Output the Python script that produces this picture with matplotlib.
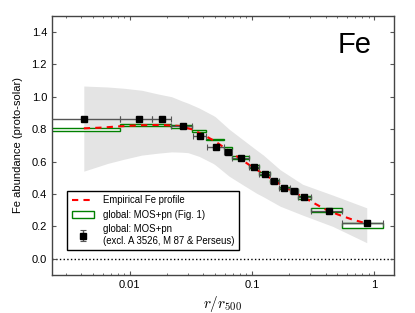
"""
Fe abundance profile vs r/r500 — empirical profile, global MOS+pn bins, scatter band
"""
import numpy as np
import matplotlib
matplotlib.use("Agg")
import matplotlib.pyplot as plt
import matplotlib.patches as mpatches
from matplotlib.container import ErrorbarContainer
from matplotlib.legend_handler import HandlerErrorbar

plt.rcParams["font.family"] = ["Liberation Sans", "DejaVu Sans"]
plt.rcParams["mathtext.fontset"] = "cm"

# ── Data ───────────────────────────────────────────────────────────────────────
# black points: global MOS+pn (excl. A 3526, M 87 & Perseus)
pt_r    = [0.0042, 0.0118, 0.0185, 0.0270, 0.0372, 0.0504, 0.0632, 0.0813,
           0.1038, 0.128, 0.152, 0.184, 0.220, 0.267, 0.426, 0.867]
pt_fe   = [0.864, 0.864, 0.864, 0.821, 0.757, 0.691, 0.660, 0.620,
           0.568, 0.522, 0.480, 0.438, 0.420, 0.379, 0.296, 0.220]
pt_rlo  = [0.0005, 0.0083, 0.0152, 0.0217, 0.0326, 0.0425, 0.0589, 0.0685,
           0.0944, 0.114, 0.140, 0.166, 0.205, 0.236, 0.306, 0.547]
pt_rhi  = [0.0083, 0.0152, 0.0216, 0.0321, 0.0420, 0.0589, 0.0680, 0.0944,
           0.114, 0.140, 0.166, 0.205, 0.236, 0.306, 0.547, 1.19]
pt_err  = [0.008] * 16

# green boxes: global MOS+pn (Fig. 1)
box_rlo = [0.0005, 0.0083, 0.0216, 0.0321, 0.0420, 0.0589, 0.0680, 0.0944,
           0.114, 0.140, 0.166, 0.205, 0.236, 0.306, 0.547]
box_rhi = [0.0083, 0.0216, 0.0321, 0.0420, 0.0589, 0.0680, 0.0944, 0.114,
           0.140, 0.166, 0.205, 0.236, 0.306, 0.547, 1.19]
box_fe  = [0.800, 0.826, 0.815, 0.788, 0.737, 0.685, 0.625, 0.568,
           0.525, 0.480, 0.438, 0.420, 0.379, 0.300, 0.208]
box_err = [0.010, 0.008, 0.008, 0.006, 0.005, 0.008, 0.008, 0.008,
           0.008, 0.008, 0.008, 0.008, 0.008, 0.011, 0.015]

# empirical Fe profile (red dashed)
prof_r  = [0.0042, 0.006, 0.008, 0.012, 0.018, 0.025, 0.032, 0.04, 0.05,
           0.063, 0.08, 0.1, 0.13, 0.16, 0.2, 0.25, 0.32, 0.4, 0.5, 0.65, 0.87]
prof_fe = [0.805, 0.810, 0.817, 0.824, 0.826, 0.820, 0.800, 0.765, 0.725,
           0.672, 0.618, 0.568, 0.515, 0.472, 0.430, 0.390, 0.345, 0.305,
           0.275, 0.245, 0.218]

# scatter band (grey)
band_r  = [0.0042, 0.0066, 0.009, 0.0125, 0.017, 0.022, 0.0265, 0.030, 0.037,
           0.048, 0.05, 0.065, 0.085, 0.109, 0.124, 0.17, 0.26, 0.46, 0.87]
band_lo = [0.541, 0.589, 0.615, 0.640, 0.652, 0.660, 0.658, 0.655, 0.632,
           0.589, 0.580, 0.510, 0.455, 0.405, 0.383, 0.325, 0.270, 0.200, 0.100]
band_hi = [1.066, 1.060, 1.052, 1.040, 1.017, 1.000, 0.975, 0.960, 0.930,
           0.885, 0.877, 0.800, 0.733, 0.671, 0.640, 0.550, 0.460, 0.393, 0.315]

# ── Plot ───────────────────────────────────────────────────────────────────────
fig = plt.figure(figsize=(4.15, 3.13), dpi=100)
ax = fig.add_axes([0.125, 0.121, 0.824, 0.829])

ax.fill_between(band_r, band_lo, band_hi, color="#e4e4e4", lw=0, zorder=1)

for lo, hi, v, e in zip(box_rlo, box_rhi, box_fe, box_err):
    ax.add_patch(mpatches.Rectangle((lo, v - e), hi - lo, 2 * e,
                                    facecolor="white", edgecolor="green",
                                    lw=1.0, zorder=2))

ax.plot(prof_r, prof_fe, color="red", lw=1.5, ls=(0, (3, 2.5)), zorder=4,
        label="Empirical Fe profile")

xerr = [np.array(pt_r) - np.array(pt_rlo), np.array(pt_rhi) - np.array(pt_r)]
eb = ax.errorbar(pt_r, pt_fe, xerr=xerr, yerr=pt_err, fmt="s", color="black",
                 ecolor="#555555", elinewidth=1.0, capsize=2.5, capthick=0.8,
                 markersize=4.5, zorder=5,
                 label="global: MOS+pn\n(excl. A 3526, M 87 & Perseus)")

ax.axhline(0.0, color="black", ls=":", lw=1.0, zorder=0)

ax.set_xscale("log")
ax.set_xlim(0.0023, 1.45)
ax.set_ylim(-0.1, 1.5)
ax.set_yticks([0.0, 0.2, 0.4, 0.6, 0.8, 1.0, 1.2, 1.4])
ax.set_xticks([0.01, 0.1, 1])
ax.set_xticklabels(["0.01", "0.1", "1"])
ax.tick_params(which="both", direction="in", top=True, right=True,
               labelsize=8, color="#555555")
ax.tick_params(which="major", length=3)
ax.tick_params(which="minor", length=1.5)
for s in ax.spines.values():
    s.set_color("#444444")
    s.set_linewidth(1.0)

ax.set_xlabel(r"$r/r_{500}$", fontsize=11, labelpad=3)
ax.set_ylabel("Fe abundance (proto-solar)", fontsize=8, labelpad=6)

ax.text(0.885, 0.885, "Fe", transform=ax.transAxes, fontsize=21,
        ha="center", va="center")

green_proxy = mpatches.Patch(facecolor="white", edgecolor="green", lw=1.0,
                             label="global: MOS+pn (Fig. 1)")
handles, labels = ax.get_legend_handles_labels()
leg = ax.legend(handles=[handles[0], green_proxy, eb],
                labels=[labels[0], "global: MOS+pn (Fig. 1)", eb.get_label()],
                loc="lower left", bbox_to_anchor=(0.045, 0.095),
                fontsize=6.9, frameon=True, fancybox=False, framealpha=1,
                edgecolor="black", borderpad=0.5, labelspacing=0.45,
                handlelength=2.3, handletextpad=0.9, borderaxespad=0,
                handler_map={ErrorbarContainer:
                             HandlerErrorbar(xerr_size=0, yerr_size=0.6)})
leg.get_frame().set_linewidth(1.0)

fig.savefig("out.png", dpi=100)
plt.close()
